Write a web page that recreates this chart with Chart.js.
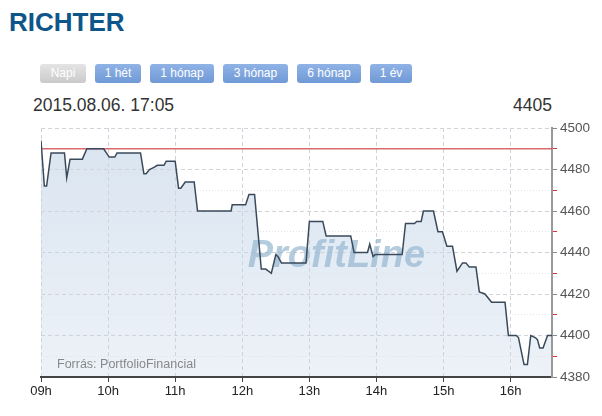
<!DOCTYPE html>
<html lang="hu">
<head>
    <meta charset="UTF-8">
    <title>RICHTER</title>
    <style>
        body {
            margin: 0;
            width: 602px;
            height: 416px;
            position: relative;
            background: #fff;
            font-family: Arial, "Liberation Sans", sans-serif;
            overflow: hidden;
        }
        .title {
            position: absolute;
            left: 9px;
            top: 9px;
            margin: 0;
            font-size: 26px;
            line-height: 26px;
            font-weight: bold;
            color: #0e5689;
        }
        .btn {
            position: absolute;
            top: 64px;
            height: 19px;
            line-height: 19px;
            border-radius: 3px;
            text-align: center;
            font-size: 12px;
            color: #fff;
            background: linear-gradient(#90b3e6, #6f99d6);
        }
        .btn.off {
            background: linear-gradient(#e4e4e4, #cacaca);
        }
        .stamp, .last {
            position: absolute;
            top: 97px;
            font-size: 17.5px;
            line-height: 17.5px;
            color: #333;
        }
        .stamp { left: 33px; }
        .last { right: 50px; }
        #chart-box {
            position: absolute;
            left: 0;
            top: 115px;
            width: 602px;
            height: 301px;
        }
    </style>
    <script src="https://cdn.jsdelivr.net/npm/chart.js"></script>
</head>
<body>
    <h1 class="title">RICHTER</h1>

    <div class="btn off" style="left:40px;width:46px">Napi</div>
    <div class="btn" style="left:95px;width:46px">1 hét</div>
    <div class="btn" style="left:150px;width:64px">1 hónap</div>
    <div class="btn" style="left:223px;width:65px">3 hónap</div>
    <div class="btn" style="left:297px;width:64px">6 hónap</div>
    <div class="btn" style="left:370px;width:42px">1 év</div>

    <div class="stamp">2015.08.06. 17:05</div>
    <div class="last">4405</div>

    <div id="chart-box">
        <canvas id="richterChart" width="602" height="301"></canvas>
    </div>

    <script>
        // időpontok és árfolyamok (leolvasva)
        const times = [
            '09:00', '09:03', '09:05', '09:09', '09:21', '09:23', '09:26', '09:37', '09:41', '09:56',
            '10:01', '10:06', '10:08', '10:29', '10:32', '10:34', '10:37', '10:41', '10:44', '10:50',
            '10:52', '11:00', '11:03', '11:05', '11:09', '11:17', '11:20', '11:50', '11:51', '12:03',
            '12:06', '12:11', '12:17', '12:21', '12:26', '12:30', '12:32', '12:35', '12:57', '13:00',
            '13:12', '13:15', '13:37', '13:40', '13:52', '13:54', '13:57', '13:59', '14:23', '14:26',
            '14:34', '14:36', '14:40', '14:42', '14:51', '14:55', '14:59', '15:03', '15:08', '15:12',
            '15:17', '15:20', '15:23', '15:29', '15:32', '15:37', '15:43', '15:55', '15:58', '16:05',
            '16:07', '16:12', '16:15', '16:18', '16:22', '16:24', '16:26', '16:29', '16:33', '16:37'
        ];
        const prices = [
            4494, 4472, 4472, 4488, 4488, 4476, 4485, 4485, 4490, 4490,
            4486, 4486, 4488, 4488, 4478, 4478, 4480, 4481, 4482, 4482,
            4484, 4484, 4471, 4471, 4474, 4474, 4460, 4460, 4463, 4463,
            4468, 4468, 4432, 4432, 4430, 4439, 4438, 4435, 4435, 4455,
            4455, 4448, 4448, 4440, 4440, 4444, 4438, 4439, 4439, 4454,
            4454, 4455, 4455, 4460, 4460, 4450, 4450, 4443, 4443, 4431,
            4435, 4435, 4433, 4433, 4421, 4420, 4416, 4416, 4400, 4400,
            4399, 4386, 4386, 4400, 4399, 4398, 4394, 4394, 4400, 4400
        ];
        const prevClose = 4490;
        const startTime = '09:00';
        const endTime = '16:37';
        const hourTicks = ['09:00', '10:00', '11:00', '12:00', '13:00', '14:00', '15:00', '16:00'];
        const hourLabels = ['09h', '10h', '11h', '12h', '13h', '14h', '15h', '16h'];
        const priceMin = 4380;
        const priceMax = 4500;
        const sourceText = 'Forrás: PortfolioFinancial';
        const watermarkText = 'ProfitLine';

        function toMin(t) {
            const [h, m] = t.split(':').map(Number);
            const [h0, m0] = startTime.split(':').map(Number);
            return (h - h0) * 60 + (m - m0);
        }

        const isMajor = c => c.tick && c.tick.value % 20 === 0;

        // vízjel és forrás felirat
        const overlayPlugin = {
            id: 'overlay',
            beforeDatasetsDraw(chart) {
                const { ctx, chartArea: a } = chart;
                ctx.save();
                ctx.font = 'italic bold 38px Arial';
                ctx.fillStyle = 'rgba(150,182,208,0.7)';
                ctx.textAlign = 'center';
                ctx.textBaseline = 'middle';
                ctx.fillText(watermarkText, a.left + (a.right - a.left) * 0.578, a.top + (a.bottom - a.top) * 0.515);
                ctx.font = '12.5px Arial';
                ctx.fillStyle = '#888';
                ctx.textAlign = 'left';
                ctx.textBaseline = 'alphabetic';
                ctx.fillText(sourceText, a.left + 16, a.bottom - 9);
                ctx.restore();
            }
        };

        const ctx = document.getElementById('richterChart').getContext('2d');
        new Chart(ctx, {
            type: 'line',
            data: {
                datasets: [{
                    data: times.map((t, i) => ({ x: toMin(t), y: prices[i] })),
                    borderColor: '#3a4a5b',
                    borderWidth: 1.5,
                    pointRadius: 0,
                    tension: 0,
                    fill: 'start',
                    backgroundColor: c => {
                        const area = c.chart.chartArea;
                        if (!area) return '#e4ecf4';
                        const g = c.chart.ctx.createLinearGradient(0, area.top, 0, area.bottom);
                        g.addColorStop(0, '#d9e4f0');
                        g.addColorStop(1, '#edf2f8');
                        return g;
                    }
                }, {
                    data: [{ x: toMin(startTime), y: prevClose }, { x: toMin(endTime), y: prevClose }],
                    borderColor: 'rgba(212,84,84,0.85)',
                    borderWidth: 1.5,
                    pointRadius: 0,
                    fill: false
                }]
            },
            options: {
                responsive: false,
                animation: false,
                layout: { padding: { left: 41, top: 13, right: 0, bottom: 0 } },
                plugins: {
                    legend: { display: false },
                    tooltip: { enabled: false },
                    filler: { drawTime: 'beforeDraw' }
                },
                scales: {
                    x: {
                        type: 'linear',
                        min: toMin(startTime),
                        max: toMin(endTime),
                        afterBuildTicks: s => { s.ticks = hourTicks.map(t => ({ value: toMin(t) })); },
                        afterFit: s => { s.height = 39; },
                        ticks: {
                            callback: (v, i) => hourLabels[i],
                            color: '#222',
                            font: { family: 'Arial', size: 13 },
                            padding: 2,
                            maxRotation: 0,
                            autoSkip: false
                        },
                        grid: { color: '#cfd4da', tickColor: '#444', tickLength: 5 },
                        border: { color: '#444', width: 2, dash: [4, 3] }
                    },
                    y: {
                        position: 'right',
                        min: priceMin,
                        max: priceMax,
                        afterFit: s => { s.width = 50; },
                        ticks: {
                            stepSize: 10,
                            callback: v => (v % 20 === 0 ? v : ''),
                            color: '#555',
                            font: { family: 'Arial', size: 13.5 },
                            padding: 3,
                            autoSkip: false
                        },
                        grid: {
                            color: c => (isMajor(c) ? '#cfd4da' : '#dde4ec'),
                            tickColor: c => (isMajor(c) ? '#888' : '#d33'),
                            tickLength: 5
                        },
                        border: { color: '#999', width: 2, dash: c => (isMajor(c) ? [4, 3] : [1, 2]) }
                    }
                }
            },
            plugins: [overlayPlugin]
        });
    </script>
</body>
</html>
